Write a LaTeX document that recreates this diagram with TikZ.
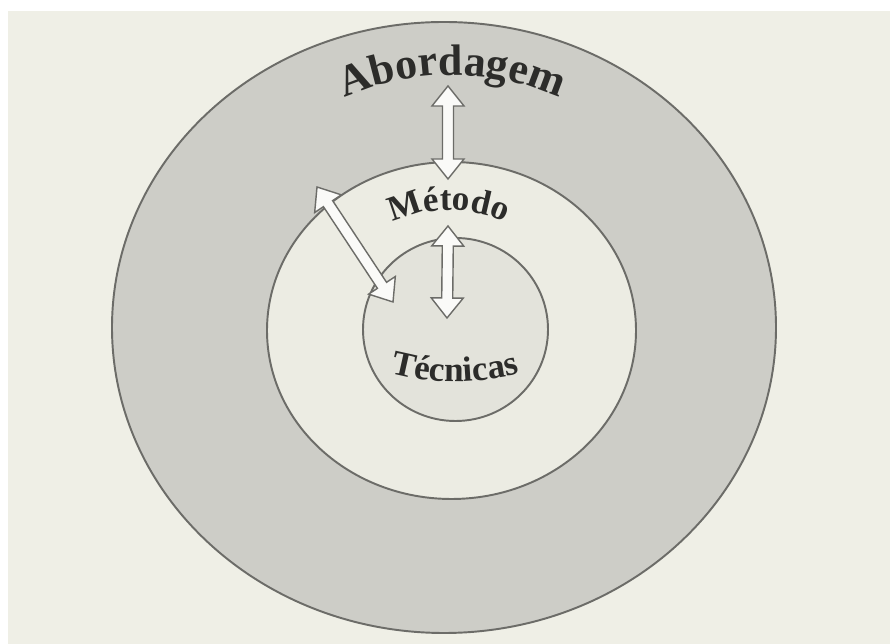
\documentclass[tikz,border=0pt]{standalone}
\usepackage{fontspec}
\setmainfont{Liberation Serif}
\usetikzlibrary{calc, decorations.text}

\definecolor{paper}{HTML}{EFEFE6}
\definecolor{ringgray}{HTML}{CDCDC7}
\definecolor{midfill}{HTML}{ECECE3}
\definecolor{corefill}{HTML}{E3E3DB}
\definecolor{edgegray}{HTML}{6C6C68}
\definecolor{inkgray}{HTML}{2C2C2A}

% hollow double arrow between two named tips
\newcommand{\hl}{0.4cm}   % head length
\newcommand{\hw}{0.32cm}  % half head width
\newcommand{\sw}{0.11cm}  % half shaft width
\newcommand{\dblarr}[2]{%
  \draw[hollow] ($(#1)!\hl!(#2)!\sw!90:(#2)$) -- ($(#1)!\hl!(#2)!\hw!90:(#2)$) -- (#1)
    -- ($(#1)!\hl!(#2)!\hw!-90:(#2)$) -- ($(#1)!\hl!(#2)!\sw!-90:(#2)$)
    -- ($(#2)!\hl!(#1)!\sw!90:(#1)$) -- ($(#2)!\hl!(#1)!\hw!90:(#1)$) -- (#2)
    -- ($(#2)!\hl!(#1)!\hw!-90:(#1)$) -- ($(#2)!\hl!(#1)!\sw!-90:(#1)$) -- cycle;}

\begin{document}
\begin{tikzpicture}[x=0.02cm, y=-0.02cm,
    ring/.style={draw=edgegray, line width=1.1pt},
    hollow/.style={draw=edgegray, fill=white!70!paper, line width=0.8pt, line join=miter},
    arctext/.style={decorate, decoration={text along path, text align=center,
                    text color=inkgray, text={#1}}}]

  % page and paper
  \fill[white] (0,0) rectangle (890,644);
  \fill[paper] (8,11) rectangle (890,644);
  \useasboundingbox (0,0) rectangle (890,644);

  % the three levels
  \filldraw[ring, fill=ringgray] (444,327.5) ellipse [x radius=332, y radius=305.5];
  \filldraw[ring, fill=midfill]  (451.5,330.5) ellipse [x radius=184.5, y radius=168.5];
  \filldraw[ring, fill=corefill] (455.5,329.5) ellipse [x radius=92.5, y radius=91.5];

  % arrow tips
  \coordinate (abTop) at (448,86);
  \coordinate (abBot) at (448,179);
  \coordinate (meTop) at (448,226);
  \coordinate (meBot) at (447,318);
  \coordinate (dgTop) at (317,187);
  \coordinate (dgBot) at (393,302);

  \dblarr{abTop}{abBot}
  \dblarr{meTop}{meBot}
  \dblarr{dgTop}{dgBot}

  % curved labels (polylines keep the letter spacing even)
  \path[arctext={|\bfseries\fontsize{25}{30}\selectfont|Abordagem}]
    plot[domain=120:60, samples=121] ({452+260*cos(\x)}, {335-260*sin(\x)});
  \path[arctext={|\bfseries\fontsize{20}{24}\selectfont|Método}]
    plot[domain=130:50, samples=121] ({449+130*cos(\x)}, {340-130*sin(\x)});
  \path[arctext={|\bfseries\fontsize{20}{24}\selectfont|Técnicas}]
    plot[domain=250:290, samples=121] ({455+248*cos(\x)}, {134-248*sin(\x)});

\end{tikzpicture}
\end{document}
